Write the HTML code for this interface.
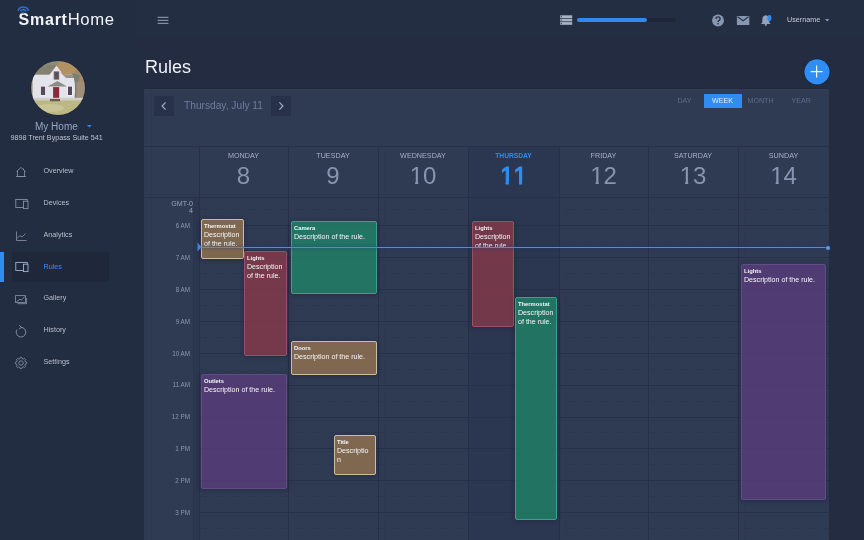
<!DOCTYPE html>
<html><head><meta charset="utf-8">
<style>
*{margin:0;padding:0;box-sizing:border-box}
html,body{width:864px;height:540px;overflow:hidden;background:#232c40;font-family:"Liberation Sans",sans-serif}
.a{position:absolute;white-space:nowrap}
#side{position:absolute;left:0;top:0;width:137px;height:540px;background:#232d42}
#head{position:absolute;left:0;top:0;width:864px;height:36px;background:#242e43}
#card{position:absolute;left:144px;top:88px;width:685px;height:460px;background:#2f3a53}
.hl{position:absolute;left:55px;width:630px;height:1px;background:#273049}
.hd{position:absolute;left:55px;width:630px;height:1px;background:repeating-linear-gradient(90deg,#2c364f 0 8px,transparent 8px 16px)}
.vl{position:absolute;top:58px;width:1px;height:410px;background:#273049}
.tl{position:absolute;right:639px;width:50px;text-align:right;font-size:6.3px;color:#8c98b0;line-height:8px}
.dn{position:absolute;top:64px;width:90px;text-align:center;font-size:7.2px;color:#a7b1c5;line-height:8px}
.dn.today{color:#2d8ef0;font-weight:bold;font-size:6.7px}
.dd{position:absolute;top:76px;width:90px;text-align:center;font-size:24px;color:#8795b1;line-height:24px}
.one{display:inline-block;height:24px;vertical-align:top;clip-path:polygon(0 0,100% 0,100% 17.05px,8.6px 17.05px,8.6px 26px,5.5px 26px,5.5px 17.05px,0 17.05px)}
.dd.today{color:#2e8ff2;-webkit-text-stroke:1.1px #2e8ff2}
.hl2{position:absolute;left:55px;width:630px;height:1px;background:#2c3750;opacity:.6}
.vl2{position:absolute;top:58px;width:1px;height:410px;background:#2c3750;opacity:.4}
.ev{position:absolute;border:1px solid;border-radius:2px;padding:1.7px 2px;overflow:hidden;color:#f3f4f7;box-shadow:0 1px 5px rgba(15,20,35,.3)}
.ev b{display:block;font-size:5.8px;line-height:8px;font-weight:bold}
.ev span{display:block;font-size:7.1px;line-height:9px;margin-top:1px;white-space:normal}
.brown{background:rgba(147,116,79,.8);border-color:#cdbc9d}
.red{background:rgba(135,58,74,.8);border-color:#985064}
.green{background:rgba(32,131,102,.8);border-color:#3aa08c}
.purple{background:rgba(89,61,124,.8);border-color:#5f4c88}
.nav{position:absolute;left:43.5px;font-size:7.2px;color:#b8bfcd;line-height:8px}
</style></head><body><div id="root" style="position:absolute;left:0;top:0;width:864px;height:540px;overflow:hidden;will-change:transform">
<div id="head"></div>
<div id="side"></div>

<!-- logo -->
<div class="a" style="left:18.6px;top:10.3px;font-size:16px;line-height:20px;letter-spacing:0.6px;color:#f2f4f8"><b style="letter-spacing:0.75px">Smart</b><span style="font-size:16.7px">Home</span></div>
<svg class="a" style="left:16px;top:5px" width="16" height="10" viewBox="0 0 16 10">
 <path d="M2.04 5.68 A5.6 5.6 0 0 1 12.56 5.68" fill="none" stroke="#2c6fd4" stroke-width="1.6"/>
 <path d="M4.48 6.57 A3 3 0 0 1 10.12 6.57" fill="none" stroke="#2c6fd4" stroke-width="1.6"/>
 <circle cx="7.3" cy="7.8" r="1" fill="#2c6fd4"/>
</svg>
<!-- hamburger -->
<svg class="a" style="left:157px;top:16px" width="12" height="9" viewBox="0 0 12 9">
 <rect x="0.6" y="0.8" width="10.8" height="1.1" fill="#8d99ae"/>
 <rect x="0.6" y="3.8" width="10.8" height="1.1" fill="#8d99ae"/>
 <rect x="0.6" y="6.8" width="10.8" height="1.1" fill="#8d99ae"/>
</svg>

<!-- top right -->
<svg class="a" style="left:560px;top:15px" width="13" height="11" viewBox="0 0 13 11">
 <rect x="0.2" y="0.3" width="12" height="2.7" fill="#a9b2c4"/>
 <rect x="0.2" y="3.7" width="12" height="2.7" fill="#a9b2c4"/>
 <rect x="0.2" y="7.1" width="12" height="2.7" fill="#a9b2c4"/>
 <rect x="1" y="1.2" width="1" height="1" fill="#3b4458"/>
 <rect x="1" y="4.6" width="1" height="1" fill="#3b4458"/>
 <rect x="1" y="8" width="1" height="1" fill="#3b4458"/>
</svg>
<div class="a" style="left:576.5px;top:18.2px;width:99px;height:3.5px;border-radius:2px;background:#1e2537"></div>
<div class="a" style="left:576.5px;top:18.2px;width:70.5px;height:3.5px;border-radius:2px;background:#3189f0"></div>

<svg class="a" style="left:711px;top:14px" width="14" height="13" viewBox="0 0 14 13">
 <circle cx="7" cy="6.5" r="5.9" fill="#8797b2"/>
 <path d="M4.9 5 Q4.9 2.9 7 2.9 Q9.1 2.9 9.1 4.8 Q9.1 6 7.8 6.6 Q7 7 7 8" fill="none" stroke="#232c41" stroke-width="1.3"/>
 <circle cx="7" cy="9.8" r="0.8" fill="#232c41"/>
</svg>
<svg class="a" style="left:736px;top:16px" width="14" height="10" viewBox="0 0 14 10">
 <rect x="0.9" y="0" width="12.4" height="9" rx="0.6" fill="#8797b2"/>
 <path d="M1.6 0.8 L7.1 4.8 L12.6 0.8" fill="none" stroke="#2a3349" stroke-width="1.1"/>
</svg>
<svg class="a" style="left:760px;top:13.5px" width="14" height="13" viewBox="0 0 14 13">
 <path d="M5.8 1.3 Q2.3 1.6 2.3 5.8 L2.3 8.6 L0.9 10 L10.7 10 L9.3 8.6 L9.3 5.8 Q9.3 1.6 5.8 1.3 Z" fill="#93a1b9"/>
 <circle cx="5.8" cy="10.8" r="1.1" fill="#93a1b9"/>
 <ellipse cx="9.4" cy="4" rx="2.1" ry="2.9" fill="#2f8cf2"/>
</svg>
<div class="a" style="left:787px;top:15.8px;font-size:7.2px;line-height:8px;color:#c6ccd8">Username</div>
<svg class="a" style="left:824px;top:18px" width="6" height="4" viewBox="0 0 6 4"><path d="M1 1.3 L5.4 1.3 L3.2 3.2 Z" fill="#a3adc0"/></svg>

<!-- profile -->
<svg class="a" style="left:30px;top:60px" width="56" height="56" viewBox="0 0 56 56">
 <defs><clipPath id="cp"><circle cx="28" cy="28" r="27"/></clipPath><filter id="bl" x="-5%" y="-5%" width="110%" height="110%"><feGaussianBlur stdDeviation="0.55"/></filter></defs>
 <circle cx="28" cy="28" r="27.6" fill="#1b2233"/>
 <g clip-path="url(#cp)"><g filter="url(#bl)">
  <rect width="56" height="56" fill="#9d8c72"/>
  <rect x="0" y="0" width="30" height="18" fill="#8d8b7b"/>
  <ellipse cx="40" cy="9" rx="14" ry="11" fill="#b29262"/>
  <ellipse cx="50" cy="20" rx="8" ry="12" fill="#a08a6a"/>
  <path d="M0 9 L18 5 L26 5 L22 16 L0 16 Z" fill="#83826f"/>
  <rect x="2.6" y="14.7" width="43" height="24.5" fill="#e3e4eb"/>
  <path d="M17 18 L26.4 5.8 L36 18 Z" fill="#e6e6ec"/>
  <path d="M30 12 L36 18 L46 18 L46 14.7 L36 14.7 Z" fill="#9a9488"/>
  <rect x="23.7" y="11.3" width="5.5" height="8.4" fill="#7a6e6e"/>
  <rect x="24.5" y="12.2" width="3.9" height="6.6" fill="#5c5058"/>
  <path d="M17.5 26.5 L27.5 21 L37 26.5 Z" fill="#8e8f84"/>
  <rect x="10.1" y="25.8" width="5.8" height="10" fill="#f0f0f4"/>
  <rect x="10.9" y="26.6" width="4.2" height="8.4" fill="#56495a"/>
  <rect x="37.2" y="25.8" width="5.6" height="10" fill="#f0f0f4"/>
  <rect x="38" y="26.6" width="4" height="8.4" fill="#56495a"/>
  <rect x="23.1" y="27.1" width="6.1" height="12" fill="#8a2a38"/>
  <path d="M42 13 Q46.5 22 44.5 39 L47.8 39 Q47.5 24 50 15 Z" fill="#7d7f74"/>
  <rect x="46.5" y="22" width="10" height="18" fill="#a18e78"/>
  <rect x="0" y="37.8" width="56" height="3" fill="#d2d0c6"/>
  <rect x="0" y="40.8" width="56" height="16" fill="#bcb883"/>
  <ellipse cx="20" cy="48" rx="14" ry="4" fill="#c9c497"/>
  <rect x="20" y="39" width="10" height="2.2" fill="#6d5752"/>
 </g></g>
</svg>
<div class="a" style="left:35px;top:121px;font-size:10px;line-height:11px;color:#97a6c4">My Home</div>
<svg class="a" style="left:85.5px;top:124px" width="7" height="5" viewBox="0 0 7 5"><path d="M0.8 1 L3.3 3.6 L5.8 1 Z" fill="#3a80dc"/></svg>
<div class="a" style="left:10.5px;top:134px;font-size:7.2px;line-height:8px;color:#bcc3d1">9898 Trent Bypass Suite 541</div>

<!-- nav -->
<div class="a" style="left:12px;top:252px;width:97px;height:30px;background:#1f283a"></div>
<div class="a" style="left:0;top:252px;width:4px;height:30px;background:#2f8ef3"></div>
<div class="nav" style="top:166.8px">Overview</div>
<div class="nav" style="top:198.8px">Devices</div>
<div class="nav" style="top:230.8px">Analytics</div>
<div class="nav" style="top:263.2px;color:#3a8ef0">Rules</div>
<div class="nav" style="top:294.3px">Gallery</div>
<div class="nav" style="top:326.3px">History</div>
<div class="nav" style="top:357.8px">Settings</div>

<svg class="a" style="left:14px;top:166px" width="14" height="12" viewBox="0 0 14 12">
 <path d="M2.5 5.5 L7 1.5 L11.5 5.5 M3.5 4.8 V10.5 H10.5 V4.8 M2 10.5 H12 M9.5 2.5 V4" fill="none" stroke="#8a95a8" stroke-width="0.8"/>
</svg>
<svg class="a" style="left:14px;top:198px" width="16" height="12" viewBox="0 0 16 12">
 <rect x="1.8" y="1.4" width="11.4" height="8.1" fill="none" stroke="#8a95a8" stroke-width="0.85"/>
 <rect x="9.5" y="3.2" width="4.5" height="7.4" fill="#232d42" stroke="#8a95a8" stroke-width="0.85"/>
</svg>
<svg class="a" style="left:14px;top:230px" width="14" height="12" viewBox="0 0 14 12">
 <path d="M2.5 1.5 V10.5 H12.5 M3 8.5 L6 5.5 L8 7 L11.5 3.5" fill="none" stroke="#8a95a8" stroke-width="0.8"/>
</svg>
<svg class="a" style="left:14px;top:261px" width="16" height="12" viewBox="0 0 16 12">
 <rect x="1.8" y="1.4" width="11.4" height="8.1" fill="none" stroke="#a8b7d8" stroke-width="0.85"/>
 <rect x="9.5" y="3.2" width="4.5" height="7.4" fill="#1f283a" stroke="#a8b7d8" stroke-width="0.85"/>
</svg>
<svg class="a" style="left:14px;top:293px" width="15" height="13" viewBox="0 0 15 13">
 <rect x="1.6" y="2.6" width="9.8" height="7" fill="none" stroke="#8a95a8" stroke-width="0.8"/>
 <path d="M12.6 5 V10.7 H3.6 M2.4 8.8 L6 6.2 L7.5 7 L10.8 3.4" fill="none" stroke="#8a95a8" stroke-width="0.8"/>
</svg>
<svg class="a" style="left:14px;top:323px" width="14" height="16" viewBox="0 0 14 16">
 <path d="M7 4.4 A4.8 4.8 0 1 1 2.9 6.7" fill="none" stroke="#8a95a8" stroke-width="0.9"/>
 <path d="M5.3 2.2 L7.3 4.4 L5.1 6.2" fill="none" stroke="#8a95a8" stroke-width="0.9"/>
</svg>
<svg class="a" style="left:13px;top:354.7px" width="16" height="16" viewBox="0 0 16 16">
 <path d="M7.20 2.36 L8.80 2.36 L9.12 3.64 L10.29 4.13 L11.42 3.44 L12.56 4.58 L11.87 5.71 L12.36 6.88 L13.64 7.20 L13.64 8.80 L12.36 9.12 L11.87 10.29 L12.56 11.42 L11.42 12.56 L10.29 11.87 L9.12 12.36 L8.80 13.64 L7.20 13.64 L6.88 12.36 L5.71 11.87 L4.58 12.56 L3.44 11.42 L4.13 10.29 L3.64 9.12 L2.36 8.80 L2.36 7.20 L3.64 6.88 L4.13 5.71 L3.44 4.58 L4.58 3.44 L5.71 4.13 L6.88 3.64 Z" fill="none" stroke="#8a95a8" stroke-width="0.85" stroke-linejoin="round"/>
 <circle cx="8" cy="8" r="2.2" fill="none" stroke="#8a95a8" stroke-width="0.85"/>
</svg>

<!-- title -->
<div class="a" style="left:145px;top:56.5px;font-size:18px;line-height:20px;color:#eef1f6">Rules</div>

<!-- plus -->
<svg class="a" style="left:803px;top:58px" width="28" height="28" viewBox="0 0 28 28">
 <circle cx="14" cy="14" r="13.6" fill="#1c2335"/>
 <circle cx="14" cy="13.8" r="12.6" fill="#2e8ef5"/>
 <path d="M13.6 7.6 V19.6 M7.6 13.6 H19.6" stroke="#f4f8ff" stroke-width="1.2"/>
</svg>

<div id="card">
 <!-- toolbar -->
 <div class="a" style="left:10px;top:8px;width:20px;height:20px;background:#27314a"></div>
 <svg class="a" style="left:10px;top:8px" width="20" height="20" viewBox="0 0 20 20"><path d="M11.6 6.4 L8.1 10 L11.6 13.6" fill="none" stroke="#a3aec1" stroke-width="1.2"/></svg>
 <div class="a" style="left:40px;top:11.5px;font-size:10.2px;line-height:12px;color:#6f7d9c">Thursday, July 11</div>
 <div class="a" style="left:126.5px;top:8px;width:20px;height:20px;background:#27314a"></div>
 <svg class="a" style="left:126.5px;top:8px" width="20" height="20" viewBox="0 0 20 20"><path d="M8.4 6.4 L11.9 10 L8.4 13.6" fill="none" stroke="#a3aec1" stroke-width="1.2"/></svg>

 <div class="a" style="left:560px;top:5.5px;width:38px;height:14px;background:#2e8cf2"></div>
 <div class="a" style="left:533.5px;top:8.5px;font-size:7.1px;line-height:8px;color:#5e6d8b">DAY</div>
 <div class="a" style="left:568px;top:8.5px;font-size:7.1px;line-height:8px;color:#e6efff">WEEK</div>
 <div class="a" style="left:603.5px;top:8.5px;font-size:7.1px;line-height:8px;color:#5e6d8b">MONTH</div>
 <div class="a" style="left:647.5px;top:8.5px;font-size:7.1px;line-height:8px;color:#5e6d8b">YEAR</div>

 <!-- grid -->
 <div class="a" style="left:7px;top:1px;width:1px;height:467px;background:#2c3750"></div>
 <div class="a" style="left:324px;top:58px;width:91px;height:410px;background:#2b3650"></div>
 <div class="a" style="left:49px;top:110px;width:6px;height:358px;background:rgba(30,40,60,.18)"></div>
 <div class="hl" style="top:58px;left:0;width:685px"></div>
 <div class="hl" style="top:106px;left:0;width:685px;background:#2c3750"></div>
 <div class="hl" style="top:109px;left:0;width:685px"></div>
 <div class="hl" style="top:137px"></div><div class="hd" style="top:121px"></div><div class="hl2" style="top:140px"></div><div class="tl" style="top:134.40px">6 AM</div><div class="hl" style="top:169px"></div><div class="hd" style="top:153px"></div><div class="hl2" style="top:172px"></div><div class="tl" style="top:166.20px">7 AM</div><div class="hl" style="top:201px"></div><div class="hd" style="top:185px"></div><div class="hl2" style="top:204px"></div><div class="tl" style="top:198.00px">8 AM</div><div class="hl" style="top:233px"></div><div class="hd" style="top:217px"></div><div class="hl2" style="top:236px"></div><div class="tl" style="top:229.80px">9 AM</div><div class="hl" style="top:265px"></div><div class="hd" style="top:249px"></div><div class="hl2" style="top:268px"></div><div class="tl" style="top:261.60px">10 AM</div><div class="hl" style="top:297px"></div><div class="hd" style="top:281px"></div><div class="hl2" style="top:300px"></div><div class="tl" style="top:293.40px">11 AM</div><div class="hl" style="top:329px"></div><div class="hd" style="top:313px"></div><div class="hl2" style="top:332px"></div><div class="tl" style="top:325.20px">12 PM</div><div class="hl" style="top:360px"></div><div class="hd" style="top:344px"></div><div class="hl2" style="top:363px"></div><div class="tl" style="top:357.00px">1 PM</div><div class="hl" style="top:392px"></div><div class="hd" style="top:376px"></div><div class="hl2" style="top:395px"></div><div class="tl" style="top:388.80px">2 PM</div><div class="hl" style="top:424px"></div><div class="hd" style="top:408px"></div><div class="hl2" style="top:427px"></div><div class="tl" style="top:420.60px">3 PM</div><div class="hl" style="top:456px"></div><div class="hd" style="top:440px"></div><div class="hl2" style="top:459px"></div><div class="vl" style="left:55px"></div><div class="vl2" style="left:61px"></div><div class="vl" style="left:144px"></div><div class="vl2" style="left:150px"></div><div class="vl" style="left:234px"></div><div class="vl2" style="left:240px"></div><div class="vl" style="left:324px"></div><div class="vl2" style="left:330px"></div><div class="vl" style="left:415px"></div><div class="vl2" style="left:421px"></div><div class="vl" style="left:504px"></div><div class="vl2" style="left:510px"></div><div class="vl" style="left:594px"></div><div class="vl2" style="left:600px"></div>
 <div class="dn" style="left:55px;width:89px">MONDAY</div><div class="dd" style="left:55px;width:89px">8</div><div class="dn" style="left:144px;width:90px">TUESDAY</div><div class="dd" style="left:144px;width:90px">9</div><div class="dn" style="left:234px;width:90px">WEDNESDAY</div><div class="dd" style="left:234px;width:90px"><span class="one">1</span>0</div><div class="dn today" style="left:324px;width:91px">THURSDAY</div><div class="dd today" style="left:324px;width:91px"><span class="one">1</span><span class="one">1</span></div><div class="dn" style="left:415px;width:89px">FRIDAY</div><div class="dd" style="left:415px;width:89px"><span class="one">1</span>2</div><div class="dn" style="left:504px;width:90px">SATURDAY</div><div class="dd" style="left:504px;width:90px"><span class="one">1</span>3</div><div class="dn" style="left:594px;width:91px">SUNDAY</div><div class="dd" style="left:594px;width:91px"><span class="one">1</span>4</div>
 <div class="a" style="left:26px;top:112.5px;width:23px;text-align:right;font-size:7.1px;line-height:7.6px;color:#97a3b9;white-space:normal">GMT-0 4</div>
</div>
<div class="a" style="left:143px;top:88px;width:687px;height:1px;background:#212a3d"></div>
<div class="a" style="left:144px;top:89px;width:685px;height:1px;background:#323d57"></div>
<div class="ev brown" style="left:201px;top:219px;width:43px;height:40px"><b>Thermostat</b><span>Description of the rule.</span></div>
<div class="ev red" style="left:244px;top:251px;width:43px;height:105px"><b>Lights</b><span>Description of the rule.</span></div>
<div class="ev green" style="left:291px;top:221px;width:86px;height:73px"><b>Camera</b><span>Description of the rule.</span></div>
<div class="ev brown" style="left:291px;top:341px;width:86px;height:34px"><b>Doors</b><span>Description of the rule.</span></div>
<div class="ev purple" style="left:201px;top:374px;width:86px;height:115px"><b>Outlets</b><span>Description of the rule.</span></div>
<div class="ev brown" style="left:334px;top:435px;width:42px;height:40px"><b>Title</b><span>Descriptio n</span></div>
<div class="ev red" style="left:472px;top:221px;width:42px;height:106px"><b>Lights</b><span>Description of the rule.</span></div>
<div class="ev green" style="left:515px;top:297px;width:42px;height:223px"><b>Thermostat</b><span>Description of the rule.</span></div>
<div class="ev purple" style="left:741px;top:264px;width:85px;height:236px"><b>Lights</b><span>Description of the rule.</span></div>

<!-- now line -->
<div class="a" style="left:200px;top:247px;width:628px;height:1px;background:#6189c4;box-shadow:0 0 3px 1px rgba(20,60,135,.35)"></div>
<div class="a" style="left:825.5px;top:245.5px;width:4px;height:4px;border-radius:50%;background:#6f95cc;box-shadow:0 0 2px 1px rgba(25,70,150,.5)"></div>
<svg class="a" style="left:197px;top:242px" width="6" height="10" viewBox="0 0 6 10"><path d="M0.5 0.5 L4.5 5 L0.5 9.5 Z" fill="#3b86e0"/></svg>


</div></body></html>
